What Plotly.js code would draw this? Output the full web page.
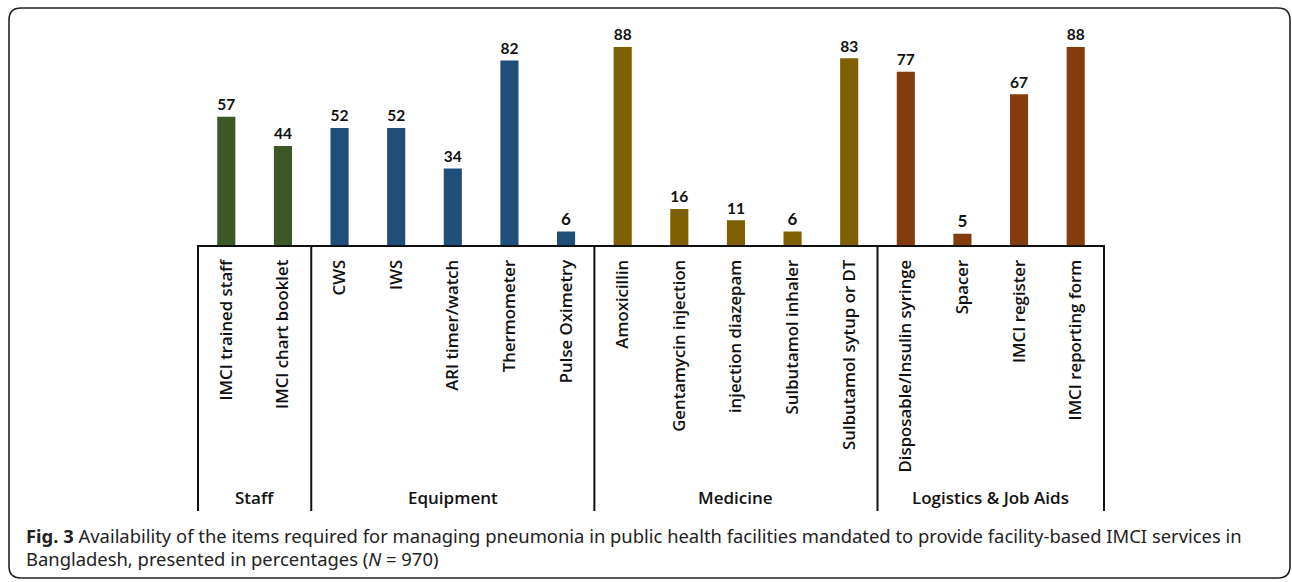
<!DOCTYPE html>
<html>
<head>
<meta charset="utf-8">
<script src="https://cdn.plot.ly/plotly-3.0.1.min.js"></script>
<style>
html,body{margin:0;padding:0;background:#fff;}
#chart{width:1292px;height:582px;}
</style>
</head>
<body>
<div id="chart"></div>
<script>
// ---- data ----
var categories = ["IMCI trained staff","IMCI chart booklet","CWS","IWS","ARI timer/watch","Thermometer","Pulse Oximetry","Amoxicillin","Gentamycin injection","injection diazepam","Sulbutamol inhaler","Sulbutamol sytup or DT","Disposable/Insulin syringe","Spacer","IMCI register","IMCI reporting form"];
var values = [57,44,52,52,34,82,6,88,16,11,6,83,77,5,67,88];
var groupNames = ["Staff","Equipment","Medicine","Logistics & Job Aids"];
var groupSizes = [2,5,5,4];
var groupColors = ["#3b5826","#1f4e79","#7f6000","#843c0c"];
var captionLine1 = "<b>Fig. 3</b> Availability of the items required for managing pneumonia in public health facilities mandated to provide facility-based IMCI services in";
var captionLine2 = "Bangladesh, presented in percentages (<i>N</i> = 970)";

// ---- layout geometry ----
var W = 1292, H = 582;
var plotL = 198, plotR = 1104, plotT = 20, base = 245;
var plotW = plotR - plotL, plotH = base - plotT;
function xp(px){ return (px - plotL) / plotW; }
function yp(py){ return (base - py) / plotH; }

var n = categories.length;
var colors = [];
groupSizes.forEach(function(s, g){ for (var k = 0; k < s; k++) colors.push(groupColors[g]); });

var shapes = [];
var annotations = [];
// group dividers
var cum = 0;
var bounds = [0];
groupSizes.forEach(function(s){ cum += s; bounds.push(cum); });
bounds.forEach(function(b){
  shapes.push({type:'line', xref:'paper', yref:'paper', x0:b/n, x1:b/n, y0:0, y1:yp(511),
    line:{color:'#111', width:2}});
});
// group labels
for (var g = 0; g < groupNames.length; g++) {
  annotations.push({xref:'paper', yref:'paper', x:(bounds[g]+bounds[g+1])/2/n, y:yp(497),
    xanchor:'center', yanchor:'middle', showarrow:false, text:groupNames[g],
    font:{family:'Open Sans, sans-serif', size:17, color:'#111', weight:600}});
}
// caption
annotations.push({xref:'paper', yref:'paper', x:xp(24), y:yp(535), xanchor:'left', yanchor:'middle',
  showarrow:false, text:captionLine1, font:{family:'Noto Sans, sans-serif', size:18.4, color:'#222'}});
annotations.push({xref:'paper', yref:'paper', x:xp(24), y:yp(558), xanchor:'left', yanchor:'middle',
  showarrow:false, text:captionLine2, font:{family:'Noto Sans, sans-serif', size:18.4, color:'#222'}});

// rounded border
var L = 9, T = 8, R = 1290, B = 578, r = 12;
function P(x, y){ return xp(x).toFixed(5) + ',' + yp(y).toFixed(5); }
var path = 'M' + P(L+r,T) + ' L' + P(R-r,T) + ' Q' + P(R,T) + ' ' + P(R,T+r) +
  ' L' + P(R,B-r) + ' Q' + P(R,B) + ' ' + P(R-r,B) +
  ' L' + P(L+r,B) + ' Q' + P(L,B) + ' ' + P(L,B-r) +
  ' L' + P(L,T+r) + ' Q' + P(L,T) + ' ' + P(L+r,T) + ' Z';
shapes.push({type:'path', xref:'paper', yref:'paper', path:path, line:{color:'#222', width:1.6}});

var trace = {
  type:'bar', x:categories, y:values, marker:{color:colors},
  text:values.map(String), textposition:'outside', cliponaxis:false,
  textfont:{family:'Lato, sans-serif', size:17, color:'#111', weight:'bold'},
  hoverinfo:'none'
};

var layout = {
  width:W, height:H,
  margin:{l:plotL, r:W-plotR, t:plotT, b:H-base, pad:0},
  paper_bgcolor:'#fff', plot_bgcolor:'#fff',
  bargap:0.68,
  showlegend:false,
  xaxis:{type:'category', categoryorder:'array', categoryarray:categories,
    tickangle:-90, ticks:'', showline:true, linecolor:'#111', linewidth:2,
    showgrid:false, zeroline:false, fixedrange:true,
    ticklabelstandoff:6,
    tickfont:{family:'Open Sans, sans-serif', size:16.8, color:'#111', weight:600}},
  yaxis:{range:[0,100], visible:false, showgrid:false, zeroline:false, fixedrange:true},
  shapes:shapes,
  annotations:annotations
};

Plotly.newPlot('chart', [trace], layout, {displayModeBar:false, staticPlot:true});
</script>
</body>
</html>
